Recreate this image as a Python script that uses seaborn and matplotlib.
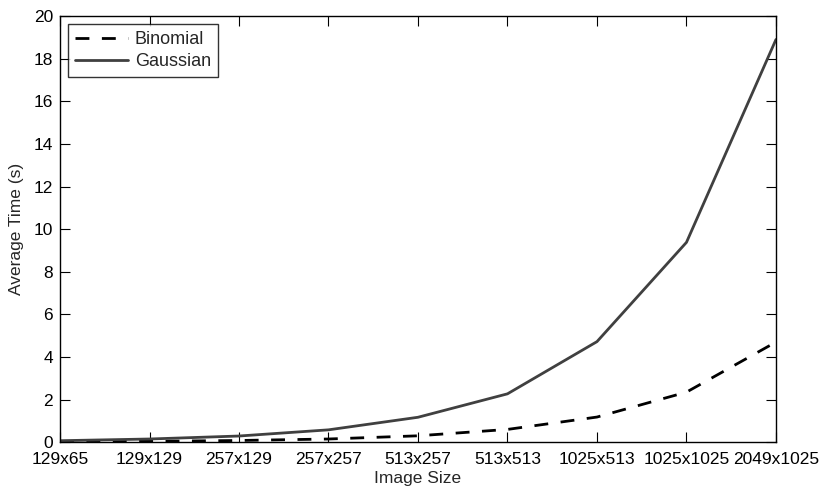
import pandas as pd
import seaborn as sns
import matplotlib.pyplot as plt

sns.set_theme(style="white")
plt.rcParams["font.family"] = ["Liberation Sans", "DejaVu Sans"]

sizes = ["129x65", "129x129", "257x129", "257x257", "513x257",
         "513x513", "1025x513", "1025x1025", "2049x1025"]
binomial = [0.02, 0.04, 0.08, 0.15, 0.30, 0.60, 1.18, 2.35, 4.70]
gaussian = [0.07, 0.15, 0.29, 0.58, 1.17, 2.27, 4.72, 9.38, 18.9]

df = pd.DataFrame({"x": list(range(len(sizes))) * 2,
                   "time": binomial + gaussian,
                   "method": ["Binomial"] * len(sizes) + ["Gaussian"] * len(sizes)})

fig, ax = plt.subplots(figsize=(8.22, 4.87), dpi=100)
fig.subplots_adjust(left=0.073, right=0.944, top=0.967, bottom=0.092)

sns.lineplot(data=df, x="x", y="time", hue="method", style="method",
             palette={"Binomial": "black", "Gaussian": "#404040"},
             dashes={"Binomial": (5, 4.5), "Gaussian": ""},
             linewidth=2, ax=ax)

ax.set_xlim(0, len(sizes) - 1)
ax.set_ylim(0, 20)
ax.set_xticks(range(len(sizes)))
ax.set_xticklabels(sizes)
ax.set_yticks(range(0, 21, 2))
ax.set_xlabel("Image Size", fontsize=12.5, labelpad=3)
ax.set_ylabel("Average Time (s)", fontsize=12.5, labelpad=7)
ax.tick_params(direction="in", length=7, width=0.8, colors="black",
               labelsize=12.5, top=True, right=True, bottom=True, left=True)
ax.tick_params(axis="x", pad=7)
ax.tick_params(axis="y", pad=5)
for s in ax.spines.values():
    s.set_color("black")
    s.set_linewidth(1)

leg = ax.legend(loc="upper left", fontsize=13, frameon=True, fancybox=False,
                edgecolor="black", borderaxespad=0.45, handlelength=2.9,
                borderpad=0.4, labelspacing=0.25, handletextpad=0.4)
leg.get_frame().set_linewidth(1)

fig.savefig("out.png", dpi=100)
